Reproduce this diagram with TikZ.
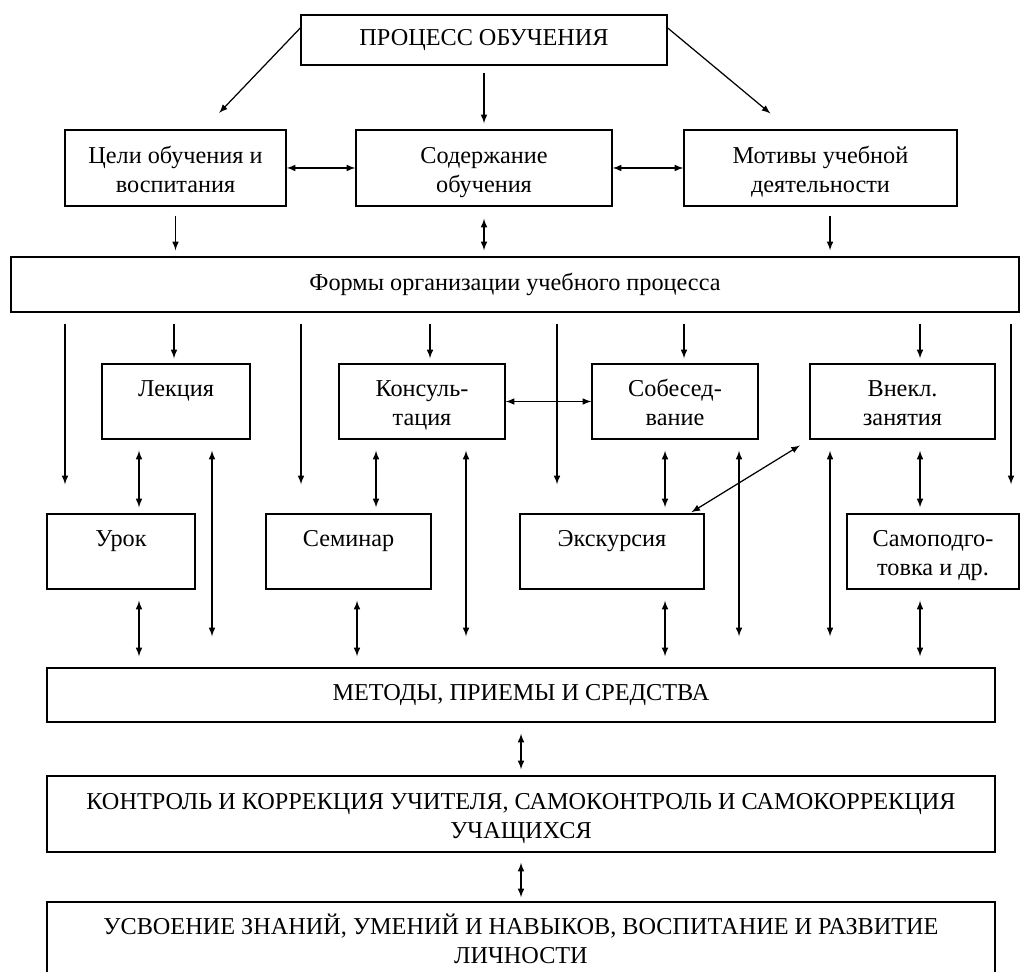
\documentclass[tikz,border=0pt]{standalone}
\usepackage{fontspec}
\setmainfont{Liberation Serif}
\usetikzlibrary{arrows,positioning}
\newcommand\tallstrut{\rule{0pt}{16pt}}

\begin{document}
\begin{tikzpicture}
	[
		font=\fontsize{13.8}{16.3}\selectfont,
		box/.style={draw, line width=0.8pt, align=center, inner sep=0pt},
		formbox/.style={box, minimum height=1.50cm},
		arrow/.style={-latex, line width=0.7pt, shorten <=0.22cm, shorten >=0.12cm},
		twoway/.style={latex-latex, line width=0.7pt, shorten <=0.22cm, shorten >=0.12cm}
	]
	\useasboundingbox (0,0) rectangle (20.42,-19.44);

	% top levels
	\node[box, minimum width=7.32cm, minimum height=1.00cm] (proc) at ( 9.68, -0.80) {ПРОЦЕСС ОБУЧЕНИЯ};
	\node[box, minimum width=4.42cm, minimum height=1.52cm] (goals) at ( 3.51, -3.36) {\tallstrut Цели обучения и\\\strut воспитания};
	\node[box, minimum width=5.12cm, minimum height=1.52cm] (content) at ( 9.68, -3.36) {\tallstrut Содержание\\\strut обучения};
	\node[box, minimum width=5.46cm, minimum height=1.52cm] (motives) at (16.41, -3.36) {\tallstrut Мотивы учебной\\\strut деятельности};
	\node[box, minimum width=20.16cm, minimum height=1.10cm] (forms) at (10.30, -5.69) {Формы организации учебного процесса};

	% forms
	\node[formbox, minimum width=2.96cm] (lecture) at ( 3.52, -8.03) {\tallstrut Лекция\\\strut};
	\node[formbox, minimum width=3.32cm] (consult) at ( 8.44, -8.03) {\tallstrut Консуль-\\\strut тация};
	\node[formbox, minimum width=3.32cm] (interview) at (13.50, -8.03) {\tallstrut Собесед-\\\strut вание};
	\node[formbox, minimum width=3.70cm] (extra) at (18.05, -8.03) {\tallstrut Внекл.\\\strut занятия};
	\node[formbox, minimum width=2.96cm] (lesson) at ( 2.42,-11.03) {\tallstrut Урок\\\strut};
	\node[formbox, minimum width=3.30cm] (seminar) at ( 6.97,-11.03) {\tallstrut Семинар\\\strut};
	\node[formbox, minimum width=3.68cm] (excursion) at (12.24,-11.03) {\tallstrut Экскурсия\\\strut};
	\node[formbox, minimum width=3.44cm] (selfstudy) at (18.66,-11.03) {\tallstrut Самоподго-\\\strut товка и др.};

	% bottom levels
	\node[box, minimum width=18.96cm, minimum height=1.08cm] (methods) at (10.42,-13.90) {МЕТОДЫ, ПРИЕМЫ И СРЕДСТВА};
	\node[box, minimum width=18.96cm, minimum height=1.52cm] (control) at (10.42,-16.28) {\tallstrut КОНТРОЛЬ И КОРРЕКЦИЯ УЧИТЕЛЯ, САМОКОНТРОЛЬ И САМОКОРРЕКЦИЯ\\\strut УЧАЩИХСЯ};
	\node[box, minimum width=18.96cm, minimum height=1.50cm] (result) at (10.42,-18.79) {\tallstrut УСВОЕНИЕ ЗНАНИЙ, УМЕНИЙ И НАВЫКОВ, ВОСПИТАНИЕ И РАЗВИТИЕ\\\strut ЛИЧНОСТИ};

	% process to components
	\draw[arrow, shorten <=0pt] ([yshift=0.24cm]proc.west) -- ([xshift=0.79cm,yshift=0.24cm]goals.north);
	\draw[arrow, shorten <=0pt] ([yshift=0.24cm]proc.east) -- ([xshift=-0.91cm,yshift=0.24cm]motives.north);
	\draw[arrow, shorten <=0.14cm] (proc.south) -- (content.north);

	\draw[twoway, shorten <=0pt, shorten >=0pt] (goals.east) -- (content.west);
	\draw[twoway, shorten <=0pt, shorten >=0pt] (content.west -| content.east) -- (motives.west);

	% components to forms
	\draw[arrow, shorten <=0.18cm] (goals.south) -- (goals.south |- forms.north);
	\draw[twoway, shorten <=0.24cm] (content.south) -- (content.south |- forms.north);
	\draw[arrow, shorten <=0.18cm] (16.60,0 |- motives.south) -- (16.60,0 |- forms.north);

	% forms to lessons
	\foreach \x/\to in {3.48/lecture, 8.60/consult, 13.68/interview, 18.40/extra}
	\draw[arrow, shorten >=0.10cm] (\x,0 |- forms.south) -- (\x,0 |- \to.north);

	\foreach \x/\to in {1.30/lesson, 6.02/seminar, 11.14/excursion, 20.22/selfstudy}
	\draw[arrow, shorten >=0.58cm] (\x,0 |- forms.south) -- (\x,0 |- \to.north);

	\draw[twoway, shorten <=0pt, shorten >=0pt] (consult.east) -- (interview.west);

	\foreach \x/\from/\to in {2.78/lecture/lesson, 7.52/consult/seminar, 13.30/interview/excursion, 18.40/extra/selfstudy}
	\draw[twoway] (\x,0 |- \from.south) -- (\x,0 |- \to.north);

	\draw[twoway, shorten >=0.04cm] (extra.south west) -- ([xshift=-0.30cm]excursion.north east);

	% lessons to methods
	\foreach \x/\from in {4.24/lecture, 9.32/consult, 14.78/interview, 16.60/extra}
	\draw[twoway, shorten >=0.62cm] (\x,0 |- \from.south) -- (\x,0 |- methods.north);

	\foreach \x/\from in {2.78/lesson, 7.14/seminar, 13.30/excursion, 18.40/selfstudy}
	\draw[twoway, shorten >=0.22cm] (\x,0 |- \from.south) -- (\x,0 |- methods.north);

	% methods to result
	\draw[twoway] (methods.south) -- (control.north);
	\draw[twoway, shorten <=0.20cm, shorten >=0.08cm] (control.south) -- (result.north);

\end{tikzpicture}
\end{document}
